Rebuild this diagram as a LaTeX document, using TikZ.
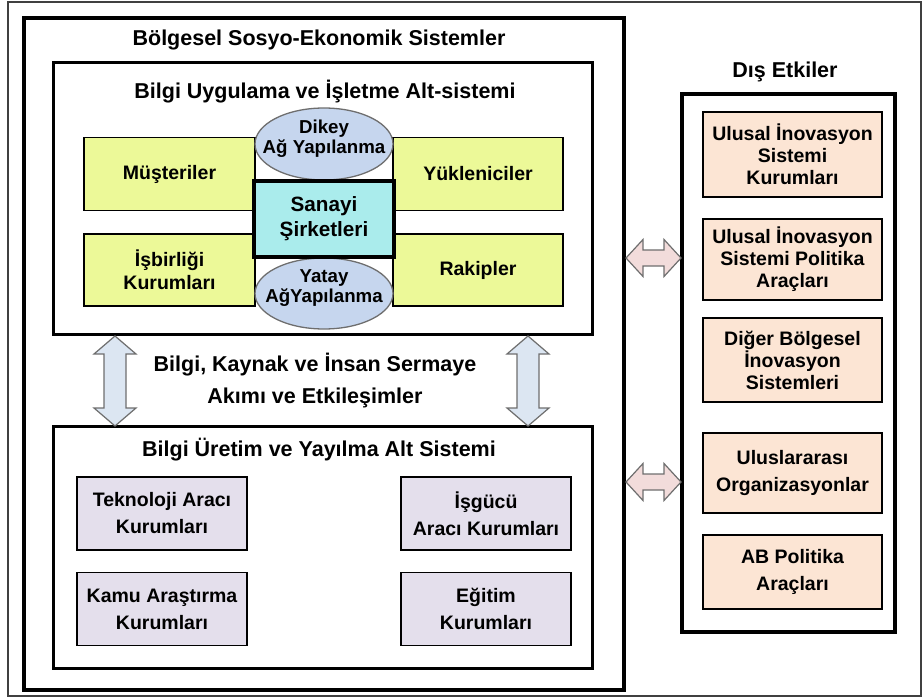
\documentclass[tikz,border=0pt]{standalone}
\usepackage{fontspec}
\setmainfont{Liberation Sans}
\usetikzlibrary{shapes.geometric,calc}
\definecolor{ylw}{RGB}{236,249,152}
\definecolor{cyn}{RGB}{170,236,236}
\definecolor{ell}{RGB}{198,214,238}
\definecolor{lav}{RGB}{228,223,236}
\definecolor{pch}{RGB}{252,229,212}
\definecolor{pnk}{RGB}{242,220,219}
\definecolor{abl}{RGB}{220,230,242}
\definecolor{edg}{RGB}{110,110,110}
\begin{document}
\begin{tikzpicture}[x=1pt,y=-1pt,
  every node/.style={inner sep=0pt,outer sep=0pt},
  ttl/.style={font=\bfseries\fontsize{21.5}{32}\selectfont,align=center},
  frm/.style={draw,rectangle,line width=#1},
  txt/.style={font=\bfseries\fontsize{19.5}{#1}\selectfont,align=center},
  etxt/.style={font=\bfseries\fontsize{18.7}{20}\selectfont,align=center},
  ybox/.style={draw,rectangle,line width=1.3pt,fill=ylw,txt=23,minimum width=171pt,minimum height=73pt},
  lbox/.style={draw,rectangle,line width=1.3pt,fill=lav,txt=27,minimum width=170pt,minimum height=73pt},
  pbox/.style={draw,rectangle,line width=1.3pt,fill=pch,txt=22,minimum width=179pt},
  ellbox/.style={draw=edg,ellipse,line width=1.3pt,fill=ell,minimum width=138pt,minimum height=72pt},
  varr/.style={draw=edg,line width=1.2pt,fill=abl,line join=miter},
  harr/.style={draw=edg,line width=1.2pt,fill=pnk,line join=miter}
]
\useasboundingbox (0,0) rectangle (922,698);
% outer thin frame
\node[frm=1.4pt,draw=black!75,minimum width=913pt,minimum height=694pt] (outer) at (464.5,349) {};
% main system box
\node[frm=4pt,minimum width=600pt,minimum height=672pt] (bs) at (324,354) {};
\node[ttl] (bst) at (319,40) {Bölgesel Sosyo-Ekonomik Sistemler};
% upper subsystem
\node[frm=3pt,minimum width=539pt,minimum height=271pt] (ua) at (322.5,198.5) {};
\node[ttl] (uat) at (325,92) {Bilgi Uygulama ve İşletme Alt-sistemi};
\node[ybox] (mus) at (169.5,174) {Müşteriler};
\node[ybox,minimum width=170pt] (yuk) at (478,174) {Yükleniciler};
\node[ybox,minimum height=72pt] (isb) at (169.5,270) {İşbirliği\\Kurumları};
\node[ybox,minimum width=170pt,minimum height=72pt] (rak) at (478,270) {Rakipler};
\node[ellbox] (dik) at (324,144) {};
\node[etxt] (dikt) at ($(dik)+(0,-5)$) {Dikey\\Ağ Yapılanma};
\node[ellbox,minimum height=71pt] (yat) at (324,293.5) {};
\node[etxt] (yatt) at ($(yat)+(0,-5)$) {Yatay\\AğYapılanma};
\node[frm=4pt,fill=cyn,font=\bfseries\fontsize{20.7}{25}\selectfont,align=center,minimum width=140pt,minimum height=76pt] (san) at (324,219) {Sanayi\\Şirketleri};
% middle text
\node[ttl] (akim) at (315,381) {Bilgi, Kaynak ve İnsan Sermaye\\Akımı ve Etkileşimler};
% lower subsystem
\node[frm=3pt,minimum width=539pt,minimum height=242pt] (uy) at (322.5,547) {};
\node[ttl] (uyt) at (319,450) {Bilgi Üretim ve Yayılma Alt Sistemi};
\node[lbox] (tek) at (162,513.5) {Teknoloji Aracı\\Kurumları};
\node[lbox] (kam) at (162,609) {Kamu Araştırma\\Kurumları};
\node[lbox] (isg) at (486,513.5) {İşgücü\\Aracı Kurumları};
\node[lbox] (egi) at (486,609) {Eğitim\\Kurumları};
% vertical double arrows
\coordinate (a1) at ($(ua.south -| 115,0)+(0,2)$);
\coordinate (b1) at (uy.north -| 115,0);
\coordinate (a2) at ($(ua.south -| 528,0)+(0,2)$);
\coordinate (b2) at (uy.north -| 528,0);
\foreach \a/\b in {a1/b1,a2/b2}{
  \draw[varr] (\a) -- ($(\a)+(21,18)$) -- ($(\a)+(11,18)$) -- ($(\b)+(11,-18)$) -- ($(\b)+(21,-18)$)
    -- (\b) -- ($(\b)+(-21,-18)$) -- ($(\b)+(-11,-18)$) -- ($(\a)+(-11,18)$) -- ($(\a)+(-21,18)$) -- cycle;
}
% external influences
\node[frm=4pt,minimum width=213pt,minimum height=538pt] (de) at (788.5,363) {};
\node[ttl] (det) at (785,72) {Dış Etkiler};
\node[pbox,minimum height=85pt] (p1) at (792.5,154.5) {Ulusal İnovasyon\\Sistemi\\Kurumları};
\node[pbox,minimum height=81pt] (p2) at (792.5,259.5) {Ulusal İnovasyon\\Sistemi Politika\\Araçları};
\node[pbox,minimum height=84pt] (p3) at (792.5,360) {Diğer Bölgesel\\İnovasyon\\Sistemleri};
\node[pbox,txt=27,minimum height=80pt] (p4) at (792.5,473) {Uluslararası\\Organizasyonlar};
\node[pbox,txt=27,minimum height=74pt] (p5) at (792.5,572) {AB Politika\\Araçları};
% horizontal double arrows
\coordinate (c1) at ($(bs.east |- 0,258)+(2,0)$);
\coordinate (d1) at ($(de.west |- 0,258)+(-1,0)$);
\coordinate (c2) at ($(bs.east |- 0,482)+(2,0)$);
\coordinate (d2) at ($(de.west |- 0,482)+(-1,0)$);
\foreach \c/\d in {c1/d1,c2/d2}{
  \draw[harr] (\c) -- ($(\c)+(17,-18.5)$) -- ($(\c)+(17,-8)$) -- ($(\d)+(-17,-8)$) -- ($(\d)+(-17,-18.5)$)
    -- (\d) -- ($(\d)+(-17,18.5)$) -- ($(\d)+(-17,8)$) -- ($(\c)+(17,8)$) -- ($(\c)+(17,18.5)$) -- cycle;
}
\end{tikzpicture}
\end{document}
